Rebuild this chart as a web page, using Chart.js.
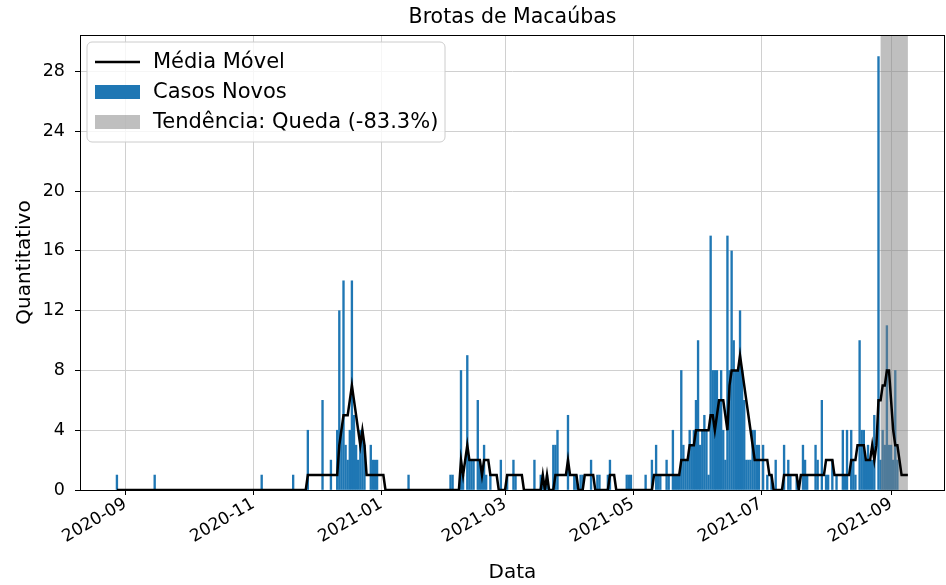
<!DOCTYPE html>
<html>
<head>
<meta charset="utf-8">
<script src="https://cdn.jsdelivr.net/npm/chart.js@4.4.0/dist/chart.umd.min.js"></script>
<style>
  html, body { margin: 0; padding: 0; background: #fff; }
</style>
</head>
<body>
<canvas id="myChart" width="946" height="585"></canvas>
<script>
// days are counted from 2020-09-01 (day 0)
var tickDays = [0, 61, 122, 181, 242, 303, 365];
var tickLabels = ['2020-09', '2020-11', '2021-01', '2021-03', '2021-05', '2021-07', '2021-09'];
var yTicks = [0, 4, 8, 12, 16, 20, 24, 28];

// new cases (only days with cases)
var caseDays = [-4, 14, 65, 80, 87, 94, 98, 101, 102, 103, 104, 105, 106, 107, 108, 109, 110, 111, 112, 113, 114, 117, 118, 119, 120, 135,
  155, 156, 160, 161, 163, 164, 165, 166, 168, 169, 170, 171, 172, 174, 179, 182, 185, 186, 195, 198, 199, 201, 204, 205, 206, 211, 214, 215, 217, 218, 222, 225, 226, 230, 231, 239, 240, 241,
  248, 251, 253, 254, 255, 258, 259, 261, 262, 263, 264, 265, 266, 267, 268, 269, 270, 271, 272, 273, 274, 275, 276, 277, 278, 279, 280, 281, 282, 283, 284, 285, 286, 287, 288, 289, 290, 291, 292, 293, 294, 295, 296, 297, 298, 299, 300, 301, 302, 304, 306, 308, 310,
  314, 316, 317, 320, 323, 324, 325, 329, 330, 332, 334, 335, 337, 339, 342, 343, 344, 346, 347, 348, 350, 351, 352, 353, 354, 355, 356, 357, 359, 360, 361, 362, 363, 364, 365, 366, 367, 368];
var caseCounts = [1, 1, 1, 1, 4, 6, 2, 4, 12, 4, 14, 3, 2, 4, 14, 5, 3, 2, 4, 4, 3, 3, 2, 2, 2, 1,
  1, 1, 8, 1, 9, 2, 2, 2, 6, 2, 1, 3, 1, 1, 2, 1, 2, 1, 2, 1, 1, 1, 3, 3, 4, 5, 1, 1, 1, 1, 2, 1, 1, 1, 2, 1, 1, 1,
  1, 2, 3, 1, 1, 2, 1, 4, 1, 1, 1, 8, 3, 2, 2, 4, 3, 4, 6, 10, 3, 4, 5, 4, 1, 17, 8, 8, 8, 6, 8, 4, 2, 17, 8, 16, 10, 8, 8, 12, 8, 6, 2, 2, 2, 4, 4, 3, 3, 3, 1, 1, 2,
  3, 2, 1, 1, 3, 2, 1, 3, 2, 6, 1, 1, 2, 1, 4, 1, 4, 4, 2, 1, 10, 4, 4, 2, 3, 2, 2, 5, 29, 2, 4, 3, 11, 3, 3, 2, 8, 2];

// moving average (vertices of the line)
var avgDays = [-4, 86, 87, 101, 102, 103, 104, 106, 107, 108, 109, 110, 111, 112, 113, 114, 115, 123, 124,
  159, 160, 161, 162, 163, 164, 169, 170, 171, 173, 174, 177, 178, 181, 182, 189, 190, 198, 199, 200, 201, 202, 204, 205, 210, 211, 212, 215, 216, 218, 219, 223, 224, 230, 231, 233, 234,
  251, 252, 264, 265, 268, 269, 271, 272, 278, 279, 280, 281, 282, 283, 285, 286, 287, 288, 289, 292, 293, 294, 295, 296, 297, 298, 299, 300, 306, 307, 308, 309, 313,
  314, 320, 321, 322, 333, 334, 337, 338, 345, 346, 348, 349, 352, 353, 355, 356, 357, 358, 359, 360, 361, 362, 363, 364, 365, 366, 367, 368, 369, 370, 373];
var avgValues = [0, 0, 1, 1, 3, 4, 5, 5, 6, 7, 6, 5, 4, 3, 4, 3, 1, 1, 0,
  0, 2, 1, 2, 3, 2, 2, 1, 2, 2, 1, 1, 0, 0, 1, 1, 0, 0, 1, 0, 1, 0, 0, 1, 1, 2, 1, 1, 0, 0, 1, 1, 0, 0, 1, 1, 0,
  0, 1, 1, 2, 2, 3, 3, 4, 4, 5, 5, 4, 5, 6, 6, 5, 4, 7, 8, 8, 9, 8, 7, 6, 5, 4, 3, 2, 2, 1, 1, 0, 0,
  1, 1, 0, 1, 1, 2, 2, 1, 1, 2, 2, 3, 3, 2, 2, 3, 2, 3, 6, 6, 7, 7, 8, 8, 6, 4, 3, 3, 2, 1, 1];

// trend span
var trendStart = 360;
var trendEnd = 373;
var trendLabel = 'Tendência: Queda (-83.3%)';

var FONT = '"DejaVu Sans", sans-serif';

var overlay = {
  id: 'overlay',
  afterDatasetDraw: function(chart, args) {
    if (args.index !== 1) return;
    var ctx = chart.ctx, a = chart.chartArea, xs = chart.scales.x;
    var x0 = xs.getPixelForValue(trendStart), x1 = xs.getPixelForValue(trendEnd);
    ctx.save();
    ctx.fillStyle = 'rgba(128,128,128,0.5)';
    ctx.fillRect(x0, a.top, x1 - x0, a.bottom - a.top);
    ctx.restore();
  },
  afterDraw: function(chart) {
    var ctx = chart.ctx, a = chart.chartArea;
    ctx.save();
    // frame
    ctx.strokeStyle = '#000';
    ctx.lineWidth = 1;
    ctx.strokeRect(Math.round(a.left) + 0.5, Math.round(a.top) + 0.5, Math.round(a.right - a.left) - 1, Math.round(a.bottom - a.top));
    // title
    ctx.fillStyle = '#000';
    ctx.font = '20.5px ' + FONT;
    ctx.textAlign = 'center';
    ctx.textBaseline = 'middle';
    ctx.fillText('Brotas de Macaúbas', (a.left + a.right) / 2, 18);
    // legend
    var bx = a.left + 7, by = a.top + 7, bw = 358, bh = 100, r = 5;
    ctx.beginPath();
    ctx.moveTo(bx + r, by);
    ctx.arcTo(bx + bw, by, bx + bw, by + bh, r);
    ctx.arcTo(bx + bw, by + bh, bx, by + bh, r);
    ctx.arcTo(bx, by + bh, bx, by, r);
    ctx.arcTo(bx, by, bx + bw, by, r);
    ctx.closePath();
    ctx.fillStyle = 'rgba(255,255,255,0.8)';
    ctx.fill();
    ctx.strokeStyle = '#cccccc';
    ctx.stroke();
    var ds = chart.data.datasets;
    var rows = [
      { label: ds[0].label, kind: 'line', color: '#000' },
      { label: ds[1].label, kind: 'box', color: '#1f77b4' },
      { label: trendLabel, kind: 'box', color: 'rgba(128,128,128,0.5)' }
    ];
    ctx.font = '21px ' + FONT;
    ctx.textAlign = 'left';
    rows.forEach(function(row, i) {
      var cy = by + 20 + i * 30;
      if (row.kind === 'line') {
        ctx.strokeStyle = row.color;
        ctx.lineWidth = 2.5;
        ctx.beginPath();
        ctx.moveTo(bx + 8, cy);
        ctx.lineTo(bx + 53, cy);
        ctx.stroke();
      } else {
        ctx.fillStyle = row.color;
        ctx.fillRect(bx + 8, cy - 7, 45, 14);
      }
      ctx.fillStyle = '#000';
      ctx.fillText(row.label, bx + 66, cy + 1);
    });
    ctx.restore();
  }
};

var ctx = document.getElementById('myChart').getContext('2d');
var chart = new Chart(ctx, {
  type: 'bar',
  data: {
    datasets: [{
      type: 'line',
      label: 'Média Móvel',
      data: avgDays.map(function(d, i) { return { x: d, y: avgValues[i] }; }),
      borderColor: '#000',
      borderWidth: 2.5,
      pointRadius: 0,
      tension: 0,
      order: 0
    }, {
      type: 'bar',
      label: 'Casos Novos',
      data: caseDays.map(function(d, i) { return { x: d, y: caseCounts[i] }; }),
      backgroundColor: '#1f77b4',
      barThickness: 1.7,
      order: 1
    }]
  },
  options: {
    responsive: false,
    animation: false,
    events: [],
    layout: { padding: { top: 35, right: 1, left: 0, bottom: 0 } },
    plugins: { legend: { display: false }, tooltip: { enabled: false }, title: { display: false } },
    scales: {
      x: {
        type: 'linear',
        min: -21.6,
        max: 390.7,
        offset: false,
        afterBuildTicks: function(s) { s.ticks = tickDays.map(function(v) { return { value: v }; }); },
        afterFit: function(s) { s.height = 95; },
        ticks: {
          autoSkip: false,
          minRotation: 30,
          maxRotation: 30,
          padding: -1,
          labelOffset: 0,
          color: '#000',
          font: { family: FONT, size: 17 },
          callback: function(v, i) { return tickLabels[i]; }
        },
        grid: { offset: false, color: '#d0d0d0', tickColor: '#000', tickLength: 5 },
        border: { display: false },
        title: { display: true, text: 'Data', color: '#000', font: { family: FONT, size: 20 }, padding: { top: 0, bottom: 0 } }
      },
      y: {
        min: 0,
        max: 30.45,
        afterBuildTicks: function(s) { s.ticks = yTicks.map(function(v) { return { value: v }; }); },
        afterFit: function(s) { s.width = 80; },
        ticks: { padding: 10, color: '#000', font: { family: FONT, size: 17.5 } },
        grid: { color: '#d0d0d0', tickColor: '#000', tickLength: 5 },
        border: { display: false },
        title: { display: true, text: 'Quantitativo', color: '#000', font: { family: FONT, size: 20 }, padding: { top: 13, bottom: 0 } }
      }
    }
  },
  plugins: [overlay]
});
</script>
</body>
</html>
